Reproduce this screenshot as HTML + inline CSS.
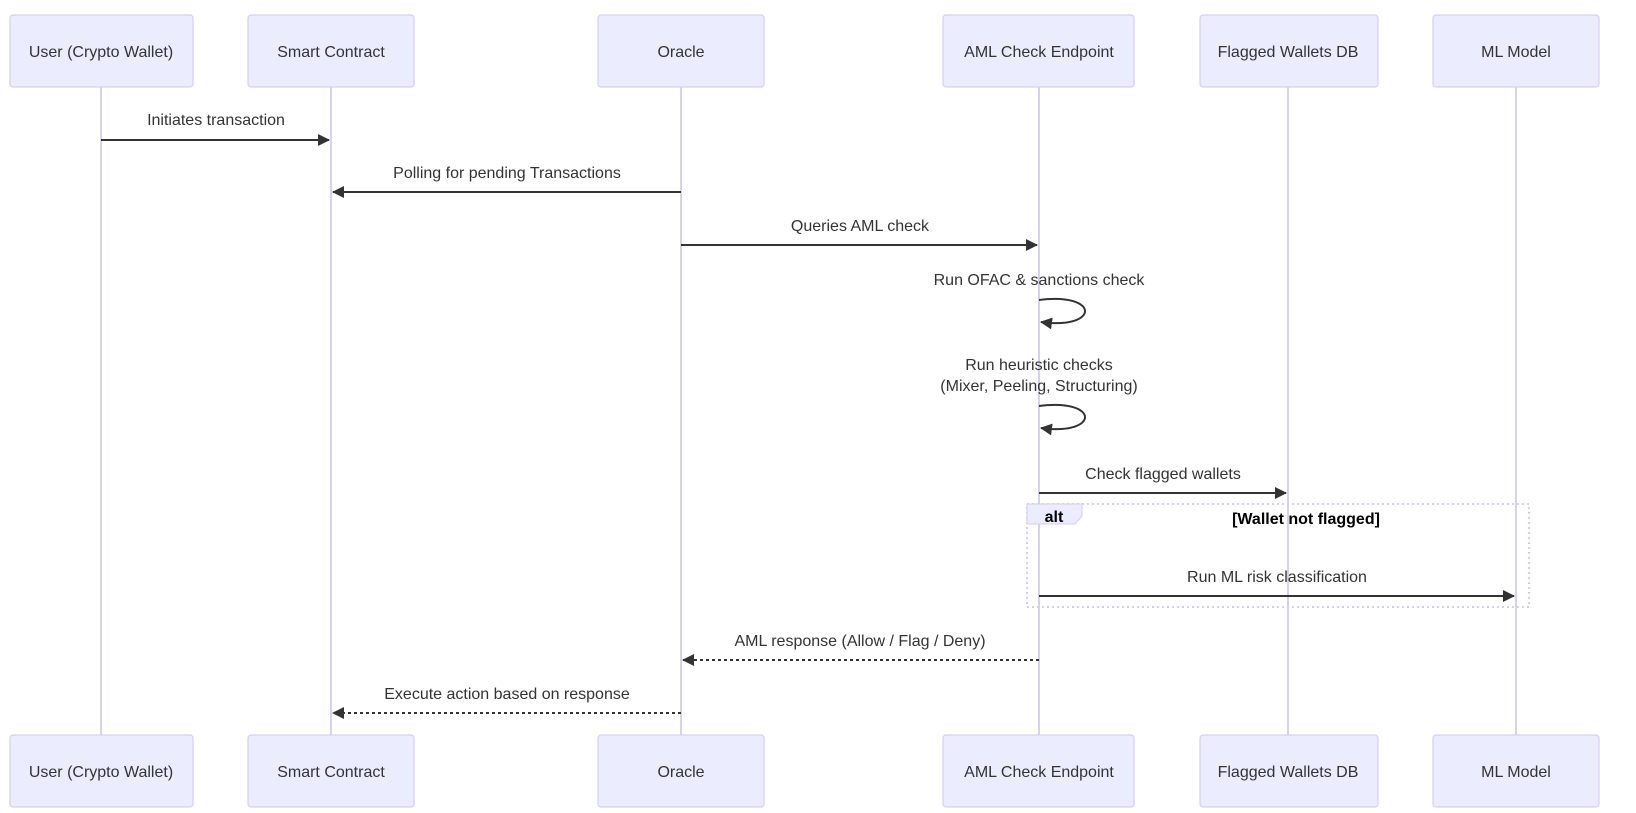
<!DOCTYPE html>
<html><head><meta charset="utf-8"><style>
html,body{margin:0;padding:0;background:#fff;width:1636px;height:813px;overflow:hidden}
text{font-family:"Liberation Sans","DejaVu Sans",sans-serif;font-size:16px;fill:#333}
.a{font-size:15.5px}
</style></head><body>
<svg width="1636" height="813" viewBox="0 0 1636 813" xmlns="http://www.w3.org/2000/svg">
<defs>
<marker id="ah" markerWidth="12" markerHeight="12" refX="11" refY="6" orient="auto" markerUnits="userSpaceOnUse"><path d="M0,0 L12,6 L0,12 z" fill="#333"/></marker>
</defs>
<g stroke="#d8d0f0" stroke-width="2">
<line x1="101" y1="87" x2="101" y2="735"/>
<line x1="331" y1="87" x2="331" y2="735"/>
<line x1="681" y1="87" x2="681" y2="735"/>
<line x1="1039" y1="87" x2="1039" y2="735"/>
<line x1="1288" y1="87" x2="1288" y2="735"/>
<line x1="1516" y1="87" x2="1516" y2="735"/>
</g>
<g fill="#ececff" stroke="#d6cdf5" stroke-width="1.2">
<rect x="10" y="15" width="183" height="72" rx="3"/>
<rect x="248" y="15" width="166" height="72" rx="3"/>
<rect x="598" y="15" width="166" height="72" rx="3"/>
<rect x="943" y="15" width="191" height="72" rx="3"/>
<rect x="1200" y="15" width="178" height="72" rx="3"/>
<rect x="1433" y="15" width="166" height="72" rx="3"/>
<rect x="10" y="735" width="183" height="72" rx="3"/>
<rect x="248" y="735" width="166" height="72" rx="3"/>
<rect x="598" y="735" width="166" height="72" rx="3"/>
<rect x="943" y="735" width="191" height="72" rx="3"/>
<rect x="1200" y="735" width="178" height="72" rx="3"/>
<rect x="1433" y="735" width="166" height="72" rx="3"/>
</g>
<g text-anchor="middle" style="fill:#000">
<text x="101" y="57" fill="#000">User (Crypto Wallet)</text>
<text x="331" y="57" fill="#000">Smart Contract</text>
<text x="681" y="57" fill="#000">Oracle</text>
<text x="1039" y="57" fill="#000">AML Check Endpoint</text>
<text x="1288" y="57" fill="#000">Flagged Wallets DB</text>
<text x="1516" y="57" fill="#000">ML Model</text>
<text x="101" y="777" fill="#000">User (Crypto Wallet)</text>
<text x="331" y="777" fill="#000">Smart Contract</text>
<text x="681" y="777" fill="#000">Oracle</text>
<text x="1039" y="777" fill="#000">AML Check Endpoint</text>
<text x="1288" y="777" fill="#000">Flagged Wallets DB</text>
<text x="1516" y="777" fill="#000">ML Model</text>
</g>
<!-- alt box -->
<rect x="1027" y="504" width="502" height="103" fill="none" stroke="#d6cdf5" stroke-width="2" stroke-dasharray="2,3"/>
<path d="M1027,504 L1082,504 L1082,516 L1075,524 L1027,524 z" fill="#ececff" stroke="#d6cdf5"/>
<text x="1054" y="522" text-anchor="middle" style="font-weight:bold;fill:#000">alt</text>
<text x="1306" y="524" text-anchor="middle" style="font-weight:bold;fill:#000">[Wallet not flagged]</text>
<g stroke="#333" stroke-width="2" fill="none">
<line x1="101" y1="140" x2="329" y2="140" marker-end="url(#ah)"/>
<line x1="681" y1="192" x2="333" y2="192" marker-end="url(#ah)"/>
<line x1="681" y1="245" x2="1037" y2="245" marker-end="url(#ah)"/>
<path d="M1039,300 C1100,292 1100,330 1041,322" marker-end="url(#ah)"/>
<path d="M1039,406 C1100,398 1100,436 1041,428" marker-end="url(#ah)"/>
<line x1="1039" y1="493" x2="1286" y2="493" marker-end="url(#ah)"/>
<line x1="1039" y1="596" x2="1514" y2="596" marker-end="url(#ah)"/>
<line x1="1039" y1="660" x2="683" y2="660" stroke-dasharray="3,3" marker-end="url(#ah)"/>
<line x1="681" y1="713" x2="333" y2="713" stroke-dasharray="3,3" marker-end="url(#ah)"/>
</g>
<g text-anchor="middle" class="a">
<text x="216" y="125">Initiates transaction</text>
<text x="507" y="178">Polling for pending Transactions</text>
<text x="860" y="231">Queries AML check</text>
<text x="1039" y="285">Run OFAC &amp; sanctions check</text>
<text x="1039" y="370">Run heuristic checks</text>
<text x="1039" y="391">(Mixer, Peeling, Structuring)</text>
<text x="1163" y="479">Check flagged wallets</text>
<text x="1277" y="582">Run ML risk classification</text>
<text x="860" y="646">AML response (Allow / Flag / Deny)</text>
<text x="507" y="699">Execute action based on response</text>
</g>
</svg>
</body></html>
